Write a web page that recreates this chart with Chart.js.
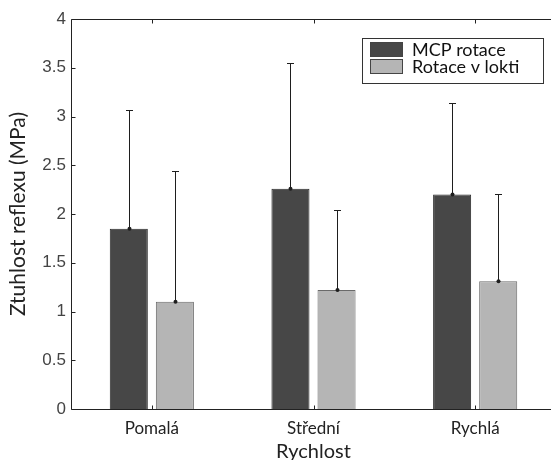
<!DOCTYPE html>
<html>
<head>
<meta charset="utf-8">
<script src="https://cdn.jsdelivr.net/npm/chart.js@4"></script>
<style>
  html, body { margin: 0; padding: 0; background: #fff; }
  #wrap { width: 551px; height: 460px; overflow: hidden; position: relative; }
  #wrap canvas { position: absolute; left: 0; top: 0; }
</style>
</head>
<body>
<div id="wrap"><canvas id="bars" width="556" height="464"></canvas></div>
<script>
const speeds = ['Pomalá', 'Střední', 'Rychlá']
const seriesNames = ['MCP rotace', 'Rotace v lokti']

// mean stiffness per speed
const mcpMean = [1.85, 2.26, 2.20]
const elbowMean = [1.10, 1.22, 1.31]
// upper error (std dev)
const mcpErr = [1.22, 1.29, 0.94]
const elbowErr = [1.34, 0.82, 0.89]

const yTicks = [0, 0.5, 1, 1.5, 2, 2.5, 3, 3.5, 4]

const darkFill = '#474747'
const lightFill = '#b5b5b5'

// one-sided error bars with a dot at the bar top
const errorBars = {
  id: 'errorBars',
  afterDatasetsDraw(chart) {
    const ctx = chart.ctx
    const y = chart.scales.y
    ctx.save()
    ctx.strokeStyle = '#1e1e1e'
    ctx.fillStyle = '#1e1e1e'
    ctx.lineWidth = 1
    chart.data.datasets.forEach((ds, di) => {
      const meta = chart.getDatasetMeta(di)
      meta.data.forEach((bar, i) => {
        const x = Math.round(bar.x) + 0.5
        const y0 = y.getPixelForValue(ds.data[i])
        const y1 = Math.round(y.getPixelForValue(ds.data[i] + ds.err[i])) + 0.5
        ctx.beginPath()
        ctx.moveTo(x, y0)
        ctx.lineTo(x, y1)
        ctx.moveTo(x - 3.5, y1)
        ctx.lineTo(x + 3.5, y1)
        ctx.stroke()
        ctx.beginPath()
        ctx.arc(x, y0, 2, 0, Math.PI * 2)
        ctx.fill()
      })
    })
    ctx.restore()
  }
}

// box frame top/left/bottom, inward ticks, legend box
const frame = {
  id: 'frame',
  afterDraw(chart) {
    const ctx = chart.ctx
    const a = chart.chartArea
    const x = chart.scales.x
    const y = chart.scales.y
    ctx.save()
    ctx.strokeStyle = '#222'
    ctx.lineWidth = 1
    const L = Math.round(a.left) + 0.5, T = Math.round(a.top) + 0.5, B = Math.round(a.bottom) + 0.5
    ctx.beginPath()
    ctx.moveTo(a.right + 5, T); ctx.lineTo(L, T); ctx.lineTo(L, B); ctx.lineTo(a.right + 5, B)
    yTicks.forEach(v => {
      const py = Math.round(y.getPixelForValue(v)) + 0.5
      ctx.moveTo(L, py); ctx.lineTo(L + 4, py)
    })
    speeds.forEach((s, i) => {
      const px = Math.round(x.getPixelForValue(i)) + 0.5
      ctx.moveTo(px, B); ctx.lineTo(px, B - 4)
      ctx.moveTo(px, T); ctx.lineTo(px, T + 4)
    })
    ctx.stroke()

    // legend
    const lx = 362.5, ly = 38.5, lw = 181, lh = 45
    ctx.fillStyle = '#fff'
    ctx.fillRect(lx, ly, lw, lh)
    ctx.strokeStyle = '#333'
    ctx.strokeRect(lx, ly, lw, lh)
    ctx.font = '18px Lato'
    ctx.textBaseline = 'middle'
    chart.data.datasets.forEach((ds, i) => {
      const sy = 42 + i * 17
      ctx.fillStyle = ds.backgroundColor
      ctx.fillRect(370, sy, 33, 15)
      ctx.strokeStyle = '#444'
      ctx.strokeRect(370.5, sy + 0.5, 32, 14)
      ctx.fillStyle = '#111'
      ctx.fillText(ds.label, 412, sy + 8)
    })
    ctx.restore()
  }
}

new Chart(document.getElementById('bars'), {
  type: 'bar',
  data: {
    labels: speeds,
    datasets: [
      {
        label: seriesNames[0],
        data: mcpMean,
        err: mcpErr,
        backgroundColor: darkFill,
        borderColor: '#2a2a2a',
        borderWidth: 1,
      },
      {
        label: seriesNames[1],
        data: elbowMean,
        err: elbowErr,
        backgroundColor: lightFill,
        borderColor: '#6a6a6a',
        borderWidth: 1,
      },
    ],
  },
  options: {
    responsive: false,
    animation: false,
    events: [],
    layout: { padding: { top: 19, right: 0, left: 0, bottom: 0 } },
    datasets: {
      bar: { categoryPercentage: 0.57, barPercentage: 0.826 },
    },
    plugins: {
      legend: { display: false },
      tooltip: { enabled: false },
    },
    scales: {
      x: {
        grid: { display: false, drawTicks: false },
        border: { display: false },
        ticks: { color: '#222', font: { family: 'Lato', size: 17 }, padding: 9 },
        title: {
          display: true,
          text: 'Rychlost',
          color: '#222',
          font: { family: 'Lato', size: 20 },
          padding: { top: 0, bottom: 0 },
        },
        afterFit: (s) => { s.height = 55 },
      },
      y: {
        min: 0,
        max: 4,
        afterBuildTicks: (s) => { s.ticks = yTicks.map(v => ({ value: v })) },
        grid: { display: false, drawTicks: false },
        border: { display: false },
        ticks: {
          color: '#444',
          font: { family: 'Liberation Sans', size: 17 },
          padding: 5,
          callback: (v) => String(v),
        },
        title: {
          display: true,
          text: 'Ztuhlost reflexu (MPa)',
          color: '#222',
          font: { family: 'Lato', size: 21 },
          padding: { top: 6, bottom: 0 },
        },
        afterFit: (s) => { s.width = 71 },
      },
    },
  },
  plugins: [errorBars, frame],
})
</script>
</body>
</html>
